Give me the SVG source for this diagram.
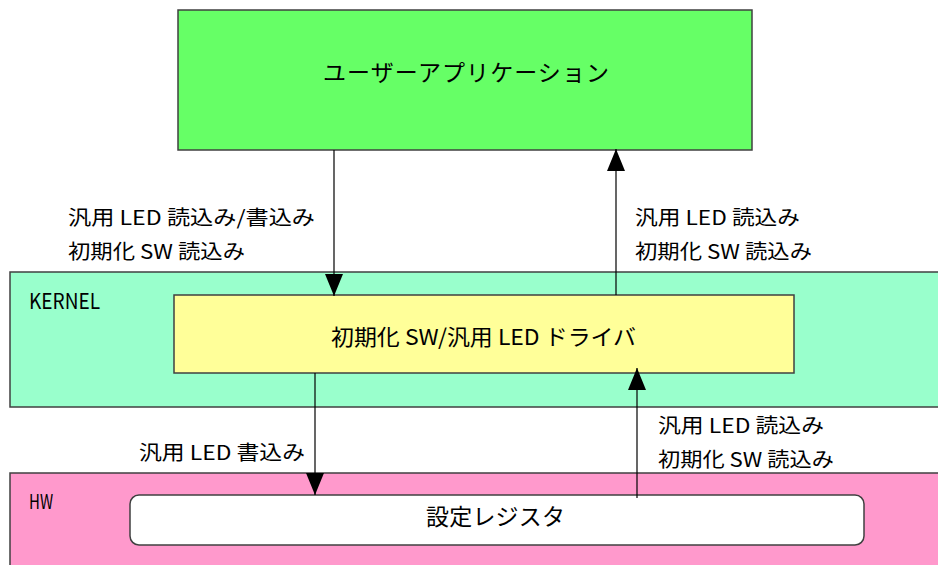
<svg xmlns="http://www.w3.org/2000/svg" width="938" height="565" viewBox="0 0 938 565">
<style>
text{font-family:"Noto Sans CJK JP","Noto Sans",sans-serif;fill:#000}
.lbl{font-size:20px}
.box{stroke:#404040;stroke-width:1.5}
.conn{stroke:#000;stroke-width:1.2;fill:none}
</style>
<defs>
<marker id="ah" viewBox="0 0 22 18" refX="22" refY="9" markerWidth="22" markerHeight="18" markerUnits="userSpaceOnUse" orient="auto">
<path d="M0,0 L22,9 L0,18 z" fill="#000"/>
</marker>
</defs>
<rect width="938" height="565" fill="#fff"/>
<g id="kernel">
<rect class="box" x="10" y="272" width="940" height="135" fill="#99FFCC"/>
<text x="29" y="309" font-size="21" textLength="71" lengthAdjust="spacingAndGlyphs">KERNEL</text>
</g>
<g id="hw">
<rect class="box" x="10" y="473" width="940" height="100" fill="#FF99CC"/>
<text x="29" y="509" font-size="20" textLength="24" lengthAdjust="spacingAndGlyphs">HW</text>
</g>
<g id="userapp">
<rect class="box" x="178" y="10" width="574" height="140" fill="#66FF66"/>
<text x="323" y="81" font-size="23" textLength="286" lengthAdjust="spacing">ユーザーアプリケーション</text>
</g>
<g id="driver">
<rect class="box" x="174" y="295" width="620" height="78" fill="#FFFF99"/>
<text x="331" y="345" font-size="22" textLength="305" lengthAdjust="spacingAndGlyphs">初期化 SW/汎用 LED ドライバ</text>
</g>
<g id="register">
<rect class="box" x="130" y="495" width="734" height="50" rx="9" fill="#fff"/>
<text x="426" y="525" font-size="23" textLength="139" lengthAdjust="spacing">設定レジスタ</text>
</g>
<g id="connectors">
<line class="conn" x1="334" y1="150" x2="334" y2="296" marker-end="url(#ah)"/>
<line class="conn" x1="616" y1="295" x2="616" y2="149" marker-end="url(#ah)"/>
<line class="conn" x1="315" y1="373" x2="315" y2="495" marker-end="url(#ah)"/>
<line class="conn" x1="637" y1="498" x2="637" y2="368" marker-end="url(#ah)"/>
</g>
<g id="labels">
<text class="lbl" x="68" y="225" textLength="247" lengthAdjust="spacingAndGlyphs">汎用 LED 読込み/書込み</text>
<text class="lbl" x="68" y="259" textLength="177" lengthAdjust="spacingAndGlyphs">初期化 SW 読込み</text>
<text class="lbl" x="635" y="225" textLength="165" lengthAdjust="spacingAndGlyphs">汎用 LED 読込み</text>
<text class="lbl" x="635" y="259" textLength="177" lengthAdjust="spacingAndGlyphs">初期化 SW 読込み</text>
<text class="lbl" x="139" y="460" textLength="166" lengthAdjust="spacingAndGlyphs">汎用 LED 書込み</text>
<text class="lbl" x="658" y="433" textLength="166" lengthAdjust="spacingAndGlyphs">汎用 LED 読込み</text>
<text class="lbl" x="658" y="467" textLength="176" lengthAdjust="spacingAndGlyphs">初期化 SW 読込み</text>
</g>
</svg>
